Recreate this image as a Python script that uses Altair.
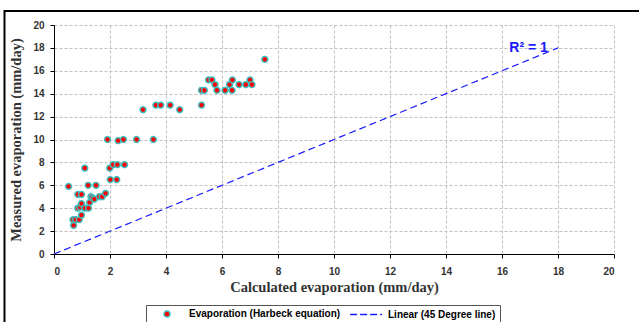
import altair as alt
import pandas as pd

# Harbeck equation: calculated vs measured evaporation (mm/day)
calc = [0.52, 0.70, 0.68, 0.77, 0.90, 0.98, 0.85, 0.93, 0.98, 0.85, 0.98, 1.10,
        1.10, 1.22, 1.23, 1.27, 1.32, 1.37, 1.44, 1.50, 1.62, 1.72, 1.84, 1.99,
        2.01, 2.11, 2.24, 2.26, 2.52, 1.91, 2.29, 2.48, 2.95, 3.55, 3.18, 3.64,
        3.81, 4.15, 4.49, 5.27, 5.27, 5.37, 5.52, 5.64, 5.75, 5.82, 6.11, 6.27,
        6.37, 6.36, 6.61, 6.85, 7.00, 7.07, 7.53]
meas = [5.9, 2.5, 3.0, 3.0, 3.0, 3.4, 4.0, 4.1, 4.4, 5.2, 5.2, 4.0,
        7.5, 6.0, 4.0, 4.5, 5.0, 4.9, 4.8, 6.0, 5.0, 5.0, 5.3, 7.5,
        6.5, 7.8, 6.5, 7.8, 7.8, 10.0, 9.9, 10.0, 10.0, 10.0, 12.6, 13.0,
        13.0, 13.0, 12.6, 13.0, 14.3, 14.3, 15.2, 15.2, 14.8, 14.3, 14.3, 14.8,
        15.2, 14.3, 14.8, 14.8, 15.2, 14.8, 17.0]

line_x = [0, 18]
line_y = [0, 18]

ann_x = [16.95]
ann_y = [18.0]
ann_text = ["R² = 1"]

x_ticks = [0, 2, 4, 6, 8, 10, 12, 14, 16, 18, 20]
y_ticks = [0, 2, 4, 6, 8, 10, 12, 14, 16, 18, 20]
series_names = ["Evaporation (Harbeck equation)", "Linear (45 Degree line)"]

pts = pd.DataFrame({"calc": calc, "meas": meas, "series": series_names[0]})
line_df = pd.DataFrame({"calc": line_x, "meas": line_y})
ann_df = pd.DataFrame({"calc": ann_x, "meas": ann_y, "label": ann_text})
frame_df = pd.DataFrame({"k": [0]})

xs = alt.Scale(domain=[0, 20], nice=False)
ys = alt.Scale(domain=[0, 20], nice=False)

x_axis = alt.Axis(values=x_ticks, title="Calculated evaporation (mm/day)",
                  labelPadding=8, titlePadding=4, labelOverlap=False)
y_axis = alt.Axis(values=y_ticks, title="Measured evaporation (mm/day)",
                  labelPadding=6, titlePadding=9, labelOverlap=False)

X = alt.X("calc:Q", scale=xs, axis=x_axis)
Y = alt.Y("meas:Q", scale=ys, axis=y_axis)

leg = alt.Legend(
    orient="none", legendX=92, legendY=280, direction="horizontal", title=None,
    strokeColor="#555555", fillColor="white", padding=4,
    symbolSize=36, symbolStrokeWidth=1.5, symbolOffset=12, symbolOpacity=1,
    labelOffset=17, columnPadding=6,
    labelFont="Liberation Sans", labelFontSize=10, labelFontWeight="bold",
    labelColor="black", labelLimit=300,
)

frame = alt.Chart(frame_df).mark_rect(
    fill="transparent", stroke="black", strokeWidth=2
).encode(
    x=alt.value(-49.5), x2=alt.value(700), y=alt.value(-14), y2=alt.value(340)
)

points = alt.Chart(pts).mark_point(filled=True, size=34, opacity=1, strokeWidth=1.5).encode(
    x=X,
    y=Y,
    fill=alt.Fill("series:N", scale=alt.Scale(domain=series_names, range=["#ff0000", "#1a1aff"]), legend=leg),
    stroke=alt.Stroke("series:N", scale=alt.Scale(domain=series_names, range=["#3fbfbf", "#1a1aff"]), legend=leg),
    shape=alt.Shape("series:N", scale=alt.Scale(domain=series_names, range=["circle", "M-5.3,0L5.3,0"]), legend=leg),
    strokeDash=alt.StrokeDash("series:N", scale=alt.Scale(domain=series_names, range=[[1, 0], [7, 3]]), legend=leg),
)

line = alt.Chart(line_df).mark_line(color="#1a1aff", strokeDash=[7, 4], strokeWidth=1.2).encode(
    x=X,
    y=Y,
)

ann = alt.Chart(ann_df).mark_text(
    font="Liberation Sans", fontSize=14, fontWeight="bold", color="#1a1aff",
    align="center", baseline="middle"
).encode(
    x=X,
    y=Y,
    text="label:N",
)

chart = alt.layer(frame, points, line, ann).properties(
    width=560, height=229,
    autosize=alt.AutoSizeParams(type="none"),
    padding={"left": 54, "top": 25, "right": 25, "bottom": 68},
    background="white",
).configure_view(
    stroke="transparent"
).configure_axis(
    gridColor="#c0c0c0", gridDash=[3, 2], gridWidth=1,
    domainColor="black", domainWidth=1,
    tickColor="black", tickSize=4, tickWidth=1,
    labelFont="Liberation Sans", labelFontWeight="bold", labelFontSize=10, labelColor="#333333",
    titleFont="Liberation Serif", titleFontWeight="bold", titleFontSize=14.5, titleColor="#333333",
)

chart.save("out.html", embed_options={"renderer": "svg", "actions": False})
